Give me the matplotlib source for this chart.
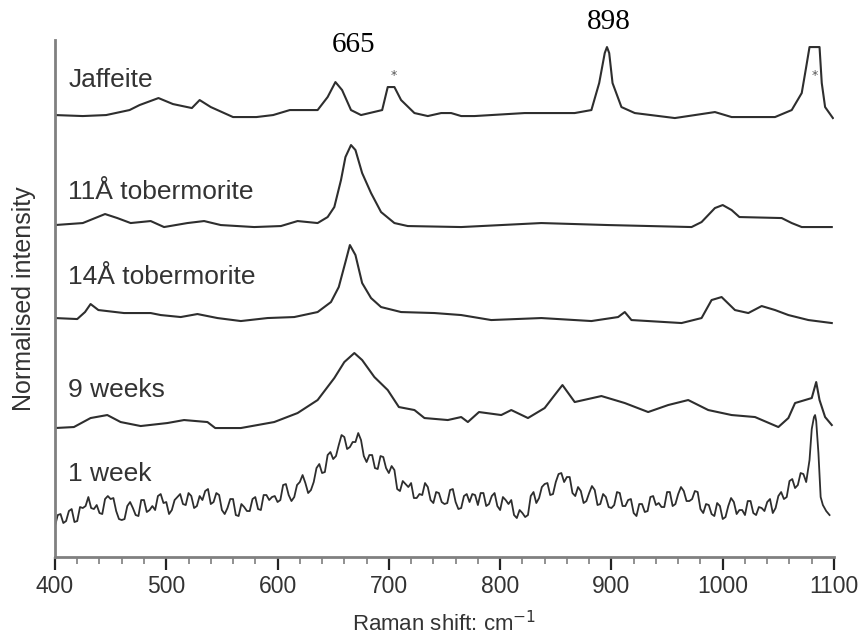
import numpy as np
import matplotlib.pyplot as plt
from matplotlib.ticker import MultipleLocator

# Raman spectra, stacked (intensity in plot units, offsets included)
jaffeite_x = [400, 425, 446, 467, 476, 493, 506, 523, 530, 540, 560, 581, 596, 611, 636, 645, 652, 658,
              666, 675, 694, 699, 705, 711, 723, 735, 747, 756, 765, 777, 822, 867, 882, 889, 894, 896,
              898, 901, 909, 921, 957, 993, 1008, 1047, 1062, 1071, 1075, 1078, 1087, 1089, 1092, 1099]
jaffeite_y = [442, 441, 442, 447, 452, 459, 453, 449, 457, 450, 440, 440, 442, 447, 447, 460, 475, 467,
              447, 442, 447, 470, 470, 457, 444, 441, 444, 444, 441, 441, 444, 444, 447, 474, 504, 510,
              504, 474, 450, 444, 439, 445, 440, 440, 447, 464, 490, 510, 510, 474, 450, 439]

tob11_x = [400, 425, 445, 456, 468, 486, 498, 519, 534, 549, 579, 603, 618, 636, 645, 651, 657, 661, 666,
           670, 676, 684, 693, 705, 717, 765, 837, 897, 972, 981, 993, 1000, 1008, 1015, 1053, 1062,
           1071, 1098]
tob11_y = [332, 334, 343, 339, 334, 336, 330, 334, 336, 332, 330, 331, 336, 334, 340, 350, 377, 400, 412,
           407, 384, 364, 345, 334, 331, 330, 334, 332, 330, 335, 349, 352, 347, 340, 339, 334,
           330, 330]

tob14_x = [400, 420, 427, 432, 439, 462, 486, 495, 513, 528, 546, 567, 591, 615, 636, 648, 655, 661, 665,
           670, 676, 684, 693, 711, 741, 765, 792, 837, 882, 906, 912, 918, 963, 981, 990, 999, 1011,
           1023, 1035, 1047, 1059, 1077, 1098]
tob14_y = [239, 238, 245, 253, 247, 244, 244, 242, 240, 243, 239, 236, 239, 240, 245, 255, 270, 295, 312,
           302, 274, 259, 250, 245, 244, 242, 237, 239, 236, 240, 245, 237, 234, 239, 257, 260, 247,
           244, 251, 247, 242, 237, 234]

weeks9_x = [400, 417, 432, 447, 459, 477, 501, 516, 537, 544, 567, 597, 618, 636, 651, 660, 669, 676, 687,
            699, 709, 723, 732, 753, 765, 771, 781, 801, 810, 825, 840, 849, 856, 867, 891, 912, 933,
            951, 969, 987, 1008, 1029, 1050, 1059, 1065, 1080, 1084, 1087, 1092, 1098]
weeks9_y = [129, 130, 139, 142, 135, 131, 134, 137, 135, 129, 129, 135, 144, 157, 179, 195, 204, 197, 180,
            167, 150, 147, 139, 137, 140, 135, 145, 142, 147, 139, 149, 162, 172, 155, 161, 154, 145,
            152, 157, 147, 142, 140, 130, 139, 154, 159, 175, 157, 140, 132]

# 1 week: noisy, sampled every 2.5 cm-1 up to 1075, then the sharp 1083 band
week1_x = list(np.arange(400, 1075.1, 2.5)) + [1078, 1080, 1082, 1083, 1084, 1086, 1088, 1090, 1093, 1096]
week1_y = [31, 42, 43, 34, 36, 46, 48, 35, 36, 50, 49, 51, 60, 49, 48, 52, 44, 43, 58, 61,
           58, 59, 46, 38, 37, 38, 51, 55, 49, 42, 41, 57, 57, 45, 47, 51, 47, 61, 63, 54,
           55, 43, 47, 57, 60, 63, 53, 52, 64, 61, 49, 51, 61, 57, 66, 68, 53, 55, 64, 62,
           47, 43, 49, 58, 58, 42, 41, 53, 50, 46, 46, 58, 60, 48, 47, 62, 62, 57, 60, 61,
           55, 57, 72, 73, 62, 56, 60, 72, 75, 82, 74, 64, 67, 75, 89, 93, 84, 85, 102, 105,
           98, 101, 112, 122, 120, 108, 110, 115, 115, 124, 117, 101, 95, 102, 102, 89, 88, 101, 100, 89,
           84, 91, 87, 68, 66, 76, 73, 70, 74, 59, 59, 63, 62, 74, 70, 57, 54, 65, 64, 55,
           53, 54, 67, 68, 55, 48, 49, 61, 63, 55, 63, 62, 52, 64, 64, 51, 53, 61, 64, 51,
           47, 60, 57, 53, 57, 42, 39, 47, 44, 40, 42, 61, 65, 54, 59, 70, 73, 74, 62, 63,
           75, 83, 84, 75, 80, 80, 64, 61, 70, 66, 54, 56, 64, 71, 67, 52, 53, 63, 60, 50,
           49, 52, 65, 64, 51, 51, 57, 58, 44, 41, 53, 53, 45, 46, 60, 61, 52, 54, 50, 50,
           65, 65, 51, 53, 63, 70, 66, 56, 56, 58, 66, 65, 48, 44, 53, 52, 43, 41, 54, 51,
           38, 40, 51, 59, 55, 43, 47, 47, 42, 56, 56, 44, 42, 50, 49, 46, 55, 58, 44, 49,
           61, 65, 58, 60, 76, 78, 69, 72, 84, 83, 75,
           97, 128, 140, 142, 136, 104, 60, 52, 46, 42]

series = [
    (jaffeite_x, jaffeite_y, 1.5),
    (tob11_x, tob11_y, 1.5),
    (tob14_x, tob14_y, 1.5),
    (weeks9_x, weeks9_y, 1.5),
    (week1_x, week1_y, 1.3),
]
trace_labels = ['Jaffeite', '11Å tobermorite', '14Å tobermorite', '9 weeks', '1 week']
label_y = [477, 365, 280, 167, 83]

peak_labels = ['665', '898']
peak_x = [668, 898]
peak_y = [512, 535]
star_x = [704, 1083]
star_y = [482, 482]

fig = plt.figure(figsize=(8.63, 6.43), dpi=100)
ax = fig.add_axes([0.0637, 0.1337, 0.9027, 0.804])

for (xs, ys, lw) in series:
    ax.plot(xs, ys, color='#2e2e2e', lw=lw)

for txt, yy in zip(trace_labels, label_y):
    ax.text(412, yy, txt, fontsize=19, family='Liberation Sans', color='#333333',
            ha='left', va='center')

for txt, xx, yy in zip(peak_labels, peak_x, peak_y):
    ax.text(xx, yy, txt, fontsize=21, family='Liberation Serif', ha='center', va='center', clip_on=False)

for xx, yy in zip(star_x, star_y):
    ax.text(xx, yy, '*', fontsize=9, ha='center', va='center', color='#555555')

ax.set_xlim(400, 1100)
ax.set_ylim(0, 517)
ax.set_yticks([])
ax.xaxis.set_major_locator(MultipleLocator(100))
ax.xaxis.set_minor_locator(MultipleLocator(20))
ax.tick_params(axis='x', which='major', length=9, width=1.6, color='#222222', labelsize=16.5,
               labelcolor='#333333', pad=4)
ax.tick_params(axis='x', which='minor', length=5, width=1.3, color='#888888')
for lab in ax.get_xticklabels():
    lab.set_family('Liberation Sans')

for s in ['top', 'right']:
    ax.spines[s].set_visible(False)
for s in ['left', 'bottom']:
    ax.spines[s].set_color('#808080')
    ax.spines[s].set_linewidth(2)

ax.set_xlabel('Raman shift: cm$^{-1}$', fontsize=16, family='Liberation Sans', color='#333333', labelpad=9)
ax.set_ylabel('Normalised intensity', fontsize=18, family='Liberation Sans', color='#333333', labelpad=14)

fig.savefig('out.png', dpi=100)
